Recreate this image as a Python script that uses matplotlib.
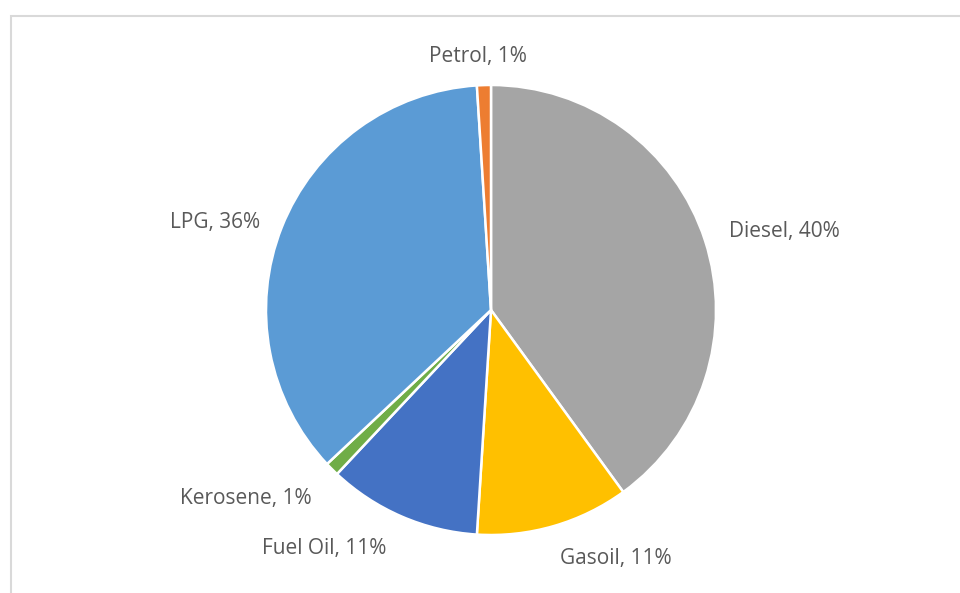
import matplotlib
matplotlib.use("Agg")
import matplotlib.pyplot as plt
from matplotlib.patches import Rectangle

# Fuel consumption shares
fuels = ["Diesel", "Gasoil", "Fuel Oil", "Kerosene", "LPG", "Petrol"]
shares = [40, 11, 11, 1, 36, 1]
colors = ["#A5A5A5", "#FFC000", "#4472C4", "#70AD47", "#5B9BD5", "#ED7D31"]

# Label anchor points: horizontal centre and text baseline (pixel space, origin top-left)
label_pos = [(784, 237), (616, 564), (324, 554), (246, 504), (215, 228), (478, 62)]

W, H = 960, 593
fig = plt.figure(figsize=(W / 100, H / 100), dpi=100)
ax = fig.add_axes([0, 0, 1, 1])
ax.set_xlim(0, W)
ax.set_ylim(0, H)
ax.set_aspect("equal")
ax.axis("off")

# chart-area border
ax.add_patch(Rectangle((11, -10), W + 20, H - 16 + 10, fill=False,
                       edgecolor="#D9D9D9", linewidth=1.5))

cx, cy, r = 491, H - 310, 225
ax.pie(shares, colors=colors, startangle=90, counterclock=False,
       center=(cx, cy), radius=r, frame=True,
       wedgeprops=dict(edgecolor="white", linewidth=1.8))
ax.set_xlim(0, W)
ax.set_ylim(0, H)
ax.axis("off")

for name, val, (x, y) in zip(fuels, shares, label_pos):
    ax.text(x, H - y, f"{name}, {val}%", ha="center", va="baseline",
            fontsize=15, color="#595959", family=["Open Sans", "DejaVu Sans"])

fig.savefig("out.png", dpi=100)
